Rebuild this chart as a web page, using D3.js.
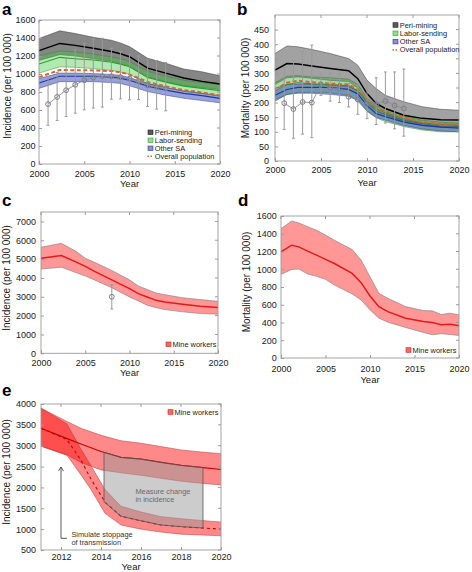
<!DOCTYPE html>
<html><head><meta charset="utf-8">
<script src="https://cdn.jsdelivr.net/npm/d3@7"></script>
<style>body{margin:0;background:#fff}svg{display:block}text{font-family:Arial,"Liberation Sans",Helvetica,sans-serif}</style>
</head><body><svg id="c" width="472" height="572"></svg>
<script>
// ---------- Panel a: incidence by region ----------
const yearsA = [2000, 2002.3, 2004, 2006, 2008, 2009, 2010, 2012, 2014, 2016, 2018, 2020];
const periUpA = [1395, 1480, 1450, 1408, 1375, 1345, 1305, 1175, 1120, 1055, 1025, 980];
const periA   = [1260, 1340, 1318, 1285, 1250, 1225, 1192, 1065, 1010, 955, 918, 890];
const periLoA = [1150, 1215, 1200, 1170, 1140, 1115, 1085, 965, 915, 870, 848, 828];
const laborUpA = [1200, 1255, 1245, 1220, 1190, 1170, 1140, 1030, 975, 930, 905, 880];
const laborA   = [1110, 1185, 1170, 1155, 1130, 1110, 1080, 960, 910, 865, 840, 815];
const laborLoA = [1010, 1080, 1075, 1060, 1040, 1020, 995, 890, 850, 810, 785, 760];
const otherUpA = [950, 1010, 1010, 1005, 995, 985, 960, 895, 850, 810, 785, 755];
const otherA   = [900, 975, 975, 975, 965, 955, 930, 865, 820, 785, 760, 730];
const otherLoA = [840, 915, 915, 915, 905, 895, 870, 805, 765, 730, 705, 680];
const overallA = [965, 1045, 1042, 1040, 1032, 1020, 995, 912, 862, 822, 795, 762];
const obsYears = [2001, 2002, 2003, 2004, 2005, 2006, 2007, 2008, 2009, 2010, 2011, 2012, 2013, 2014];
const obsA   = [665, 745, 820, 880, 930, 960, 975, 975, 965, 950, 920, 875, 855, 840];
const obsLoA = [430, 484, 528, 565, 602, 621, 632, 720, 724, 713, 715, 639, 610, 591];
const obsHiA = [950, 1016, 1175, 1268, 1341, 1386, 1397, 1286, 1249, 1219, 1201, 1157, 1150, 1127];

// ---------- Panel b: mortality by region ----------
const yearsB = [2000, 2001.3, 2002.5, 2004, 2006, 2008, 2009, 2010, 2011, 2012, 2014, 2016, 2018, 2020];
const periUpB = [368, 394, 391, 382, 368, 351, 328, 277, 248, 225, 203, 186, 177, 174];
const periB   = [311, 334, 332, 325, 317, 309, 282, 231, 197, 180, 157, 146, 141, 140];
const periLoB = [262, 285, 288, 283, 276, 272, 250, 200, 172, 158, 135, 122, 116, 112];
const laborUpB = [268, 290, 292, 288, 285, 280, 262, 215, 190, 180, 155, 140, 133, 130];
const laborB   = [248, 262, 268, 264, 262, 258, 240, 205, 178, 165, 145, 130, 125, 122];
const laborLoB = [210, 228, 235, 235, 233, 225, 205, 170, 148, 135, 118, 106, 100, 100];
const otherUpB = [240, 262, 262, 262, 260, 255, 240, 200, 170, 160, 140, 128, 120, 118];
const otherB   = [225, 245, 252, 252, 252, 245, 230, 190, 162, 152, 133, 122, 116, 113];
const otherLoB = [205, 228, 232, 232, 228, 222, 210, 172, 150, 140, 122, 110, 103, 100];
const overallB = [245, 268, 275, 270, 265, 262, 245, 210, 180, 170, 148, 133, 127, 125];
const obsB   = [198, 178, 202, 200, 262, 250, 248, 220, 210, 195, 195, 205, 190, 180];
const obsLoB = [108, 78, 92, 80, 225, 205, 200, 185, 160, 145, 125, 130, 110, 85];
const obsHiB = [320, 345, 375, 397, 300, 300, 300, 265, 260, 270, 285, 305, 305, 315];

// ---------- Panel c: mine worker incidence ----------
const yearsC = [2000, 2002.3, 2004, 2005, 2006, 2008, 2010, 2011, 2012, 2013, 2014, 2016, 2018, 2020];
const mineUpC = [5630, 5840, 5400, 5050, 4840, 4400, 3900, 3570, 3390, 3200, 3110, 2950, 2850, 2760];
const mineC   = [5050, 5190, 4840, 4610, 4360, 3900, 3430, 3170, 2990, 2810, 2720, 2600, 2500, 2430];
const mineLoC = [4470, 4570, 4270, 4100, 3900, 3480, 2990, 2780, 2550, 2420, 2320, 2200, 2110, 2075];
const obsYearC = [2008], obsC = [3000], obsLoC = [2350], obsHiC = [3650];

// ---------- Panel d: mine worker mortality ----------
const yearsD = [2000, 2001.2, 2002, 2003, 2004, 2005, 2006, 2008, 2009, 2010, 2011, 2012, 2014, 2016, 2017, 2018, 2019, 2020];
const mineUpD = [1458, 1544, 1521, 1480, 1439, 1385, 1327, 1222, 1103, 916, 729, 673, 579, 535, 531, 490, 505, 486];
const mineD   = [1196, 1271, 1252, 1205, 1159, 1112, 1065, 953, 849, 699, 579, 523, 449, 411, 400, 374, 381, 363];
const mineLoD = [942, 998, 1002, 946, 920, 886, 822, 721, 654, 542, 449, 404, 344, 288, 262, 273, 265, 254];

// ---------- Panel e: stoppage of transmission ----------
const yearsE = [2011, 2012.3, 2013, 2014, 2015, 2016, 2017, 2018, 2019, 2020];
const baseUpE = [3900, 3580, 3420, 3250, 3120, 3060, 2980, 2900, 2850, 2810];
const baseE   = [3420, 3170, 3040, 2860, 2720, 2680, 2600, 2530, 2480, 2430];
const baseLoE = [2990, 2780, 2600, 2420, 2350, 2290, 2220, 2150, 2100, 2060];
const yearsI = [2011, 2012.3, 2013, 2013.5, 2014.2, 2015, 2016, 2017, 2018, 2019, 2020];
const stopUpE = [3900, 3520, 2915, 2520, 1950, 1550, 1410, 1300, 1250, 1210, 1170];
const stopE   = [3420, 3150, 2650, 2200, 1650, 1310, 1200, 1100, 1060, 1030, 1000];
const stopLoE = [2990, 2770, 2300, 1950, 1380, 1100, 1000, 930, 880, 860, 840];
const measureYears  = [2014.15, 2015, 2016, 2017, 2018, 2019.1];
const measureTop    = [2840, 2720, 2680, 2600, 2530, 2475];
const measureBottom = [1655, 1310, 1200, 1100, 1060, 1028];
const arrowYear = 2012, arrowFrom = 780, arrowTo = 2490, arrowFootYear = 2012.3;

const regionLabels = ["Peri-mining", "Labor-sending", "Other SA", "Overall population"];
const mineLabel = "Mine workers";
const xTicksMain = [2000, 2005, 2010, 2015, 2020];
const xTicksE = [2012, 2014, 2016, 2018, 2020];

const svg = d3.select("#c");

function makePanel(cfg) {
  const x = d3.scaleLinear().domain(cfg.xDomain).range([cfg.left, cfg.right]);
  const y = d3.scaleLinear().domain(cfg.yDomain).range([cfg.bottom, cfg.top]);
  const g = svg.append("g");
  const content = g.append("g");
  const axes = g.append("g");
  axes.append("rect").attr("x", cfg.left).attr("y", cfg.top)
    .attr("width", cfg.right - cfg.left).attr("height", cfg.bottom - cfg.top)
    .attr("fill", "none").attr("stroke", "#9a9a9a").attr("stroke-width", 0.9);
  const fs = 9;
  const bx = axes.append("g").attr("transform", `translate(0,${cfg.bottom})`)
    .call(d3.axisBottom(x).tickValues(cfg.xTicks).tickSizeInner(-3).tickSizeOuter(0)
      .tickPadding(cfg.xPad).tickFormat(d3.format("d")));
  const ly = axes.append("g").attr("transform", `translate(${cfg.left},0)`)
    .call(d3.axisLeft(y).tickValues(cfg.yTicks).tickSizeInner(-3).tickSizeOuter(0)
      .tickPadding(cfg.yPad).tickFormat(d3.format("d")));
  [bx, ly].forEach(a => {
    a.select(".domain").remove();
    a.selectAll("line").attr("stroke", "#9a9a9a");
    a.selectAll("text").attr("font-size", fs).attr("fill", "#1a1a1a")
      .attr("font-family", "Arial, 'Liberation Sans', sans-serif");
  });
  // mirrored ticks on top and right
  axes.selectAll(".tt").data(cfg.xTicks).enter().append("line")
    .attr("x1", d => x(d)).attr("x2", d => x(d)).attr("y1", cfg.top).attr("y2", cfg.top + 3)
    .attr("stroke", "#9a9a9a");
  axes.selectAll(".rt").data(cfg.yTicks).enter().append("line")
    .attr("y1", d => y(d)).attr("y2", d => y(d)).attr("x1", cfg.right).attr("x2", cfg.right - 3)
    .attr("stroke", "#9a9a9a");
  axes.append("text").attr("x", (cfg.left + cfg.right) / 2).attr("y", cfg.yearY)
    .attr("text-anchor", "middle").attr("dy", "0.35em").attr("font-size", 9.5).attr("fill", "#1a1a1a").text("Year");
  axes.append("text").attr("transform", `translate(${cfg.titleX},${cfg.titleY}) rotate(-90)`)
    .attr("text-anchor", "middle").attr("dy", "0.35em").attr("font-size", 10).attr("fill", "#1a1a1a").text(cfg.yTitle);
  svg.append("text").attr("x", cfg.letterX).attr("y", cfg.letterY).attr("font-size", 17)
    .attr("font-weight", "bold").attr("fill", "#000").text(cfg.letter);
  return { x, y, content, axes };
}

function band(p, xs, lo, hi, fill, op, edge, ew) {
  const idx = d3.range(xs.length);
  p.content.append("path").datum(idx)
    .attr("d", d3.area().x(i => p.x(xs[i])).y0(i => p.y(lo[i])).y1(i => p.y(hi[i])))
    .attr("fill", fill).attr("fill-opacity", op).attr("stroke", "none");
  [lo, hi].forEach(arr => {
    p.content.append("path").datum(idx)
      .attr("d", d3.line().x(i => p.x(xs[i])).y(i => p.y(arr[i])))
      .attr("fill", "none").attr("stroke", edge).attr("stroke-width", ew).attr("stroke-opacity", 0.8);
  });
}
function line(p, xs, ys, color, w, dash) {
  const idx = d3.range(xs.length);
  const path = p.content.append("path").datum(idx)
    .attr("d", d3.line().x(i => p.x(xs[i])).y(i => p.y(ys[i])))
    .attr("fill", "none").attr("stroke", color).attr("stroke-width", w);
  if (dash) path.attr("stroke-dasharray", dash);
}
function observed(p, xs, v, lo, hi, connect) {
  const g = p.content.append("g");
  xs.forEach((yr, i) => {
    g.append("line").attr("x1", p.x(yr)).attr("x2", p.x(yr)).attr("y1", p.y(lo[i])).attr("y2", p.y(hi[i]))
      .attr("stroke", "#9a9a9a").attr("stroke-width", 1);
    [lo[i], hi[i]].forEach(e => g.append("line").attr("x1", p.x(yr) - 1.5).attr("x2", p.x(yr) + 1.5)
      .attr("y1", p.y(e)).attr("y2", p.y(e)).attr("stroke", "#9a9a9a").attr("stroke-width", 1));
  });
  if (connect) {
    const idx = d3.range(xs.length);
    g.append("path").datum(idx).attr("d", d3.line().x(i => p.x(xs[i])).y(i => p.y(v[i])))
      .attr("fill", "none").attr("stroke", "#8a8a95").attr("stroke-width", 0.9);
  }
  xs.forEach((yr, i) => g.append("circle").attr("cx", p.x(yr)).attr("cy", p.y(v[i])).attr("r", 2.4)
    .attr("fill", "none").attr("stroke", "#7d7d8c").attr("stroke-width", 1));
}
function regionLegend(p, x0, y0, step) {
  const fills = [["#5a5a5a", "#222"], ["#8fe08a", "#3a9a3a"], ["#8a92cf", "#333a8a"]];
  const g = p.axes.append("g");
  regionLabels.forEach((t, i) => {
    const yy = y0 + i * step;
    if (i < 3) {
      g.append("rect").attr("x", x0).attr("y", yy - 2.3).attr("width", 5).attr("height", 4.6)
        .attr("fill", fills[i][0]).attr("stroke", fills[i][1]).attr("stroke-width", 0.6);
    } else {
      g.append("line").attr("x1", x0 - 0.5).attr("x2", x0 + 5.5).attr("y1", yy).attr("y2", yy)
        .attr("stroke", "#d9602a").attr("stroke-width", 1.5).attr("stroke-dasharray", "1.5,1.5");
    }
    g.append("text").attr("x", x0 + 6.8).attr("y", yy).attr("dy", "0.35em").attr("font-size", 7.4)
      .attr("fill", "#222").text(t);
  });
}
function mineLegend(p, x0, y0) {
  p.axes.append("rect").attr("x", x0).attr("y", y0 - 2.3).attr("width", 5).attr("height", 4.6)
    .attr("fill", "#f46a6a").attr("stroke", "#d02020").attr("stroke-width", 0.6);
  p.axes.append("text").attr("x", x0 + 6.5).attr("y", y0).attr("dy", "0.35em").attr("font-size", 7.4)
    .attr("fill", "#222").text(mineLabel);
}

// ---------- Panel a ----------
const pa = makePanel({left: 39, right: 220, top: 20, bottom: 164, xDomain: [2000, 2020], yDomain: [0, 1600],
  xTicks: xTicksMain, yTicks: d3.range(0, 1601, 200), xPad: 7, yPad: 3.5, yearY: 184,
  titleX: 7.5, titleY: 86, yTitle: "Incidence (per 100 000)", letter: "a", letterX: 2, letterY: 15});
band(pa, yearsA, periLoA, periUpA, "#222", 0.55, "#333", 0.6);
band(pa, yearsA, laborLoA, laborUpA, "#44cc44", 0.42, "#2a8a2a", 0.6);
band(pa, yearsA, otherLoA, otherUpA, "#3344bb", 0.5, "#2a3a8a", 0.6);
line(pa, yearsA, periA, "#000", 1.5);
line(pa, yearsA, laborA, "#2e9e2e", 1.1);
line(pa, yearsA, otherA, "#1f3a9a", 1.2);
line(pa, yearsA, overallA, "#e0602a", 2, "4,2.5");
observed(pa, obsYears, obsA, obsLoA, obsHiA, true);
regionLegend(pa, 148, 132.3, 8);

// ---------- Panel b ----------
const pb = makePanel({left: 275, right: 459, top: 15, bottom: 161, xDomain: [2000, 2020], yDomain: [0, 500],
  xTicks: xTicksMain, yTicks: d3.range(0, 451, 50), xPad: 6, yPad: 6, yearY: 182.5,
  titleX: 245, titleY: 88, yTitle: "Mortality (per 100 000)", letter: "b", letterX: 237, letterY: 15});
band(pb, yearsB, periLoB, periUpB, "#222", 0.42, "#333", 0.6);
band(pb, yearsB, laborLoB, laborUpB, "#44aa44", 0.45, "#2a7a2a", 0.6);
band(pb, yearsB, otherLoB, otherUpB, "#3344bb", 0.45, "#2a3a8a", 0.6);
line(pb, yearsB, periB, "#000", 1.5);
line(pb, yearsB, laborB, "#2e8e2e", 1.1);
line(pb, yearsB, otherB, "#1f3a9a", 1.2);
line(pb, yearsB, overallB, "#e0602a", 2, "4,2.5");
observed(pb, obsYears, obsB, obsLoB, obsHiB, true);
regionLegend(pb, 393, 25, 8.3);

// ---------- Panel c ----------
const pc = makePanel({left: 41, right: 218, top: 212, bottom: 353.3, xDomain: [2000, 2020], yDomain: [0, 7500],
  xTicks: xTicksMain, yTicks: d3.range(0, 7001, 1000), xPad: 6.2, yPad: 5, yearY: 373,
  titleX: 6.5, titleY: 278, yTitle: "Incidence (per 100 000)", letter: "c", letterX: 2, letterY: 206});
band(pc, yearsC, mineLoC, mineUpC, "#ff3030", 0.5, "#777", 0.7);
line(pc, yearsC, mineC, "#e41a1a", 1.5);
observed(pc, obsYearC, obsC, obsLoC, obsHiC, false);
mineLegend(pc, 166, 344.3);

// ---------- Panel d ----------
const pd = makePanel({left: 281, right: 459, top: 216, bottom: 358, xDomain: [2000, 2020], yDomain: [0, 1600],
  xTicks: xTicksMain, yTicks: d3.range(0, 1601, 200), xPad: 8, yPad: 4.3, yearY: 380,
  titleX: 246, titleY: 282, yTitle: "Mortality (per 100 000)", letter: "d", letterX: 238, letterY: 206});
band(pd, yearsD, mineLoD, mineUpD, "#ff3030", 0.5, "#777", 0.7);
line(pd, yearsD, mineD, "#e41a1a", 1.5);
mineLegend(pd, 406, 350);

// ---------- Panel e ----------
const pe = makePanel({left: 41, right: 221, top: 404, bottom: 550, xDomain: [2011, 2020], yDomain: [500, 4000],
  xTicks: xTicksE, yTicks: d3.range(500, 4001, 500), xPad: 3.6, yPad: 5, yearY: 567,
  titleX: 6.5, titleY: 472, yTitle: "Incidence (per 100 000)", letter: "e", letterX: 2, letterY: 396});
band(pe, yearsE, baseLoE, baseUpE, "#ff1414", 0.5, "#b03030", 0.6);
band(pe, yearsI, stopLoE, stopUpE, "#ff1414", 0.5, "#b03030", 0.6);
line(pe, yearsE, baseE, "#c80000", 1.2);
line(pe, yearsI, stopE, "#c00000", 1.1, "3,3");
{
  const idx = d3.range(measureYears.length);
  pe.content.append("path").datum(idx)
    .attr("d", d3.area().x(i => pe.x(measureYears[i])).y0(i => pe.y(measureBottom[i])).y1(i => pe.y(measureTop[i])))
    .attr("fill", "#9a9a9a").attr("fill-opacity", 0.5).attr("stroke", "#555").attr("stroke-width", 0.8);
  pe.content.append("text").attr("x", pe.x(2015.72)).attr("y", pe.y(1900)).attr("dy", "0.35em")
    .attr("font-size", 7.4).attr("fill", "#6a6a6a").text("Measure change");
  pe.content.append("text").attr("x", pe.x(2015.72)).attr("y", pe.y(1715)).attr("dy", "0.35em")
    .attr("font-size", 7.4).attr("fill", "#6a6a6a").text("in incidence");
  const ax = pe.x(arrowYear), ay0 = pe.y(arrowFrom), ay1 = pe.y(arrowTo);
  pe.content.append("path")
    .attr("d", `M${pe.x(arrowFootYear)},${ay0}H${ax}V${ay1}M${ax - 2.5},${ay1 + 4}L${ax},${ay1}L${ax + 2.5},${ay1 + 4}`)
    .attr("fill", "none").attr("stroke", "#333").attr("stroke-width", 0.8);
  pe.content.append("text").attr("x", pe.x(2012.52)).attr("y", pe.y(885)).attr("dy", "0.35em")
    .attr("font-size", 7.4).attr("fill", "#333").text("Simulate stoppage");
  pe.content.append("text").attr("x", pe.x(2012.52)).attr("y", pe.y(690)).attr("dy", "0.35em")
    .attr("font-size", 7.4).attr("fill", "#333").text("of transmission");
}
mineLegend(pe, 168, 412);
</script></body></html>
